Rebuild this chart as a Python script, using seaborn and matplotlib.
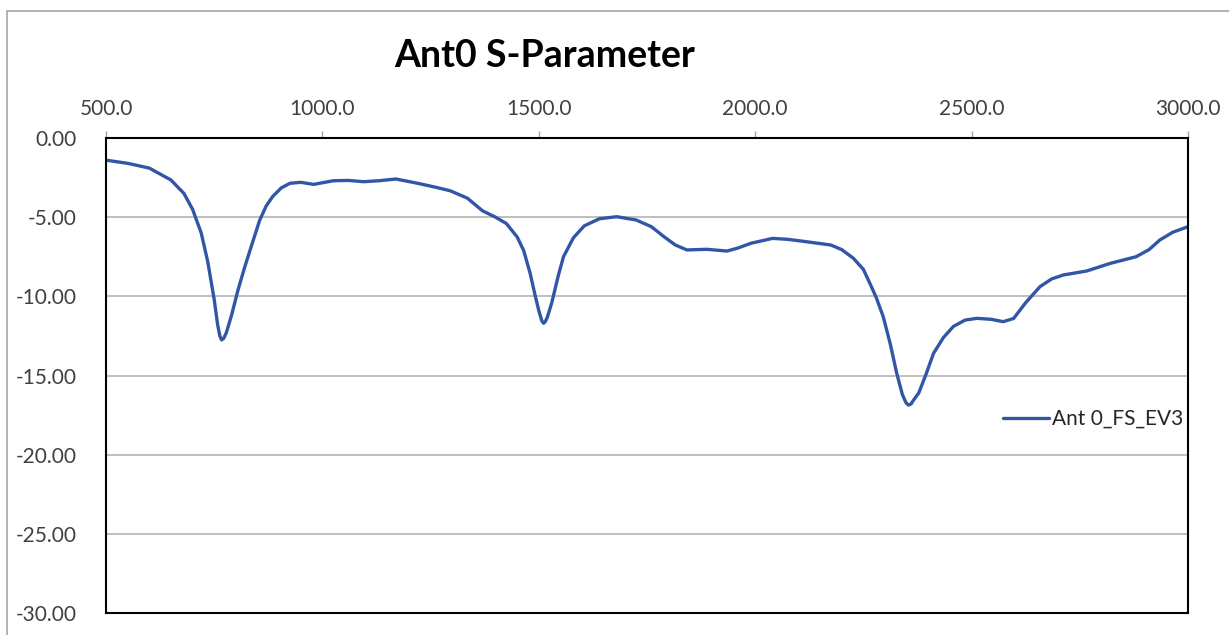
import matplotlib
matplotlib.use("Agg")
import matplotlib.pyplot as plt
import seaborn as sns
import pandas as pd
from matplotlib.patches import Rectangle

# frequency (MHz) and S11 (dB)
freq = [500, 550, 600, 650, 680, 700, 720, 735, 750, 758, 763, 767, 772, 778,
        790, 805, 820, 835, 855, 870, 885, 905, 925, 950, 980, 1025, 1060, 1095,
        1130, 1170, 1220, 1260, 1295, 1335, 1370, 1400, 1425, 1450, 1465, 1480,
        1492, 1500, 1507, 1511, 1515, 1520, 1530, 1545, 1557, 1580, 1605, 1640,
        1680, 1725, 1760, 1790, 1815, 1842, 1888, 1935, 1960, 1990, 2040, 2075,
        2110, 2175, 2200, 2227, 2250, 2265, 2280, 2296, 2312, 2327, 2340, 2348,
        2354, 2360, 2366, 2378, 2395, 2412, 2435, 2458, 2485, 2512, 2545, 2573,
        2597, 2625, 2658, 2685, 2712, 2766, 2820, 2880, 2910, 2935, 2965, 3000]
s11 = [-1.40, -1.60, -1.90, -2.65, -3.50, -4.50, -6.00, -7.80, -10.2, -11.8,
       -12.5, -12.75, -12.65, -12.3, -11.2, -9.6, -8.2, -6.9, -5.2, -4.3, -3.7,
       -3.15, -2.86, -2.80, -2.93, -2.70, -2.68, -2.76, -2.70, -2.59, -2.86,
       -3.10, -3.33, -3.80, -4.60, -5.00, -5.40, -6.25, -7.10, -8.55, -10.0,
       -10.9, -11.55, -11.7, -11.6, -11.3, -10.4, -8.7, -7.5, -6.3, -5.55, -5.10,
       -4.97, -5.18, -5.60, -6.25, -6.75, -7.07, -7.03, -7.14, -6.95, -6.65,
       -6.34, -6.40, -6.52, -6.76, -7.05, -7.60, -8.30, -9.18, -10.1, -11.3,
       -13.0, -14.86, -16.2, -16.7, -16.87, -16.8, -16.55, -16.1, -14.9, -13.6,
       -12.6, -11.9, -11.5, -11.39, -11.45, -11.6, -11.4, -10.4, -9.39, -8.9,
       -8.65, -8.40, -7.92, -7.50, -7.05, -6.44, -5.95, -5.60]
series_name = "Ant 0_FS_EV3"
title = "Ant0 S-Parameter"

df = pd.DataFrame({"freq": freq, "s11": s11, "series": series_name})

sns.set_style("white")
plt.rcParams["font.family"] = ["Lato", "DejaVu Sans"]

fig = plt.figure(figsize=(12.29, 6.35), dpi=100)
W, H = 1229, 635
ax = fig.add_axes([106 / W, 1 - 613 / H, (1188 - 106) / W, (613 - 138) / H])

# outer chart border like the spreadsheet frame
fig.patches.append(Rectangle((7 / W, -0.05), 1.1, 1 - 11 / H + 0.05,
                             transform=fig.transFigure, fill=False,
                             edgecolor="#a6a6a6", linewidth=1.2))

sns.lineplot(data=df, x="freq", y="s11", hue="series", palette=["#3256a6"],
             linewidth=2.4, ax=ax, estimator=None, sort=False,
             solid_joinstyle="round", solid_capstyle="round")

ax.set_xlim(500, 3000)
ax.set_ylim(-30, 0)
ax.set_xticks(range(500, 3001, 500))
ax.set_xticklabels([f"{v:.1f}" for v in range(500, 3001, 500)])
ax.set_yticks(range(-30, 1, 5))
ax.set_yticklabels([f"{v:.2f}" for v in range(-30, 1, 5)])
ax.xaxis.tick_top()
ax.tick_params(axis="both", colors="#a0a0a0", labelcolor="#404040",
               labelsize=15, length=5, width=1)
ax.tick_params(axis="x", pad=9)
ax.tick_params(axis="y", pad=16)
ax.grid(axis="y", color="#bfbfbf", linewidth=1.4)
ax.set_axisbelow(True)
for sp in ax.spines.values():
    sp.set_color("black")
    sp.set_linewidth(1.5)
ax.set_xlabel("")
ax.set_ylabel("")

fig.text(545 / W, 1 - 56 / H, title, ha="center", va="center",
         fontsize=27, fontweight="bold", color="black")

leg = ax.legend(loc="center left", bbox_to_anchor=((1003 - 106) / 1082, (613 - 419) / 475),
                frameon=False, fontsize=15, handlelength=2.2, handletextpad=0.15,
                borderaxespad=0, borderpad=0)
for t in leg.get_texts():
    t.set_color("#262626")

fig.savefig("out.png", dpi=100)
